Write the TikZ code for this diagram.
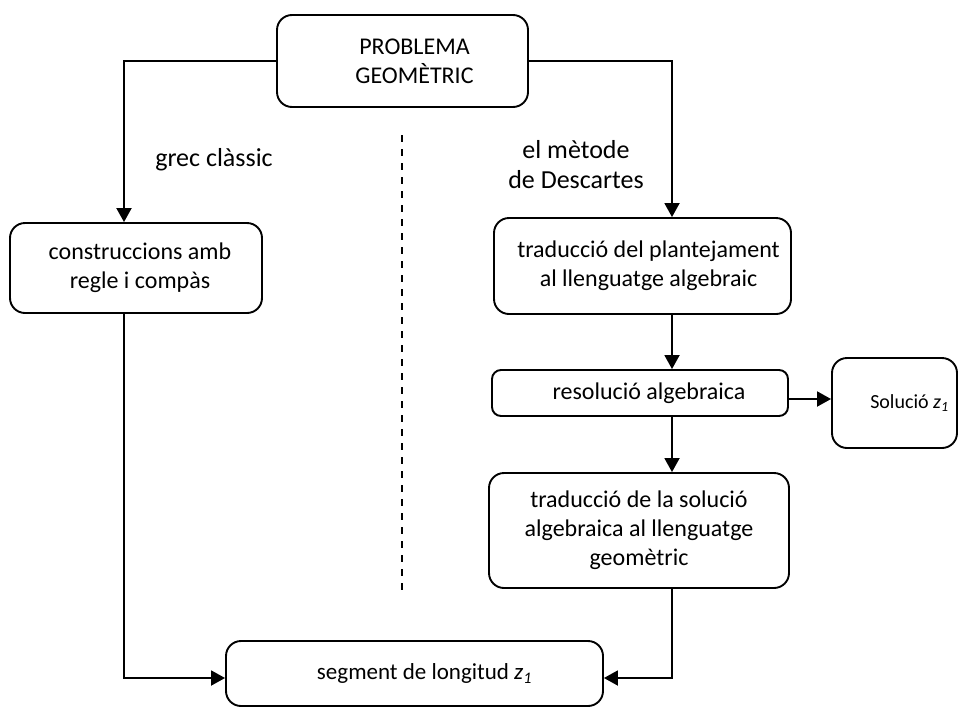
\documentclass[tikz,border=0pt]{standalone}
\usepackage{fontspec}
\setmainfont{Carlito}
\usetikzlibrary{arrows.meta}
\newcommand{\zone}{\textit{z}\textsubscript{\textit{1}}}
% pushes a centred line to the right by half of the given amount
\newcommand{\pushr}[1]{\hspace*{#1}}
\begin{document}
\begin{tikzpicture}[x=1pt,y=-1pt,
  box/.style={draw, line width=1.9pt, rounded corners=15pt, align=center,
    inner sep=0pt, font=\fontsize{24}{29}\selectfont},
  lbl/.style={align=center, inner sep=0pt, font=\fontsize{26}{30}\selectfont},
  flow/.style={line width=1.9pt, -{Triangle[length=14pt,width=15pt]}},
  sep/.style={line width=1.9pt, dash pattern=on 7pt off 7pt}]
\useasboundingbox (0,0) rectangle (960,707);

% boxes
\node[box, minimum width=251pt, minimum height=92pt] (prob) at (402.5,61)
  {\pushr{24pt}PROBLEMA\\\pushr{24pt}GEOMÈTRIC};
\node[box, minimum width=252pt, minimum height=90pt] (constr) at (136,268)
  {\pushr{8pt}construccions amb\\\pushr{8pt}regle i compàs};
\node[box, minimum width=297pt, minimum height=96pt] (trad1) at (642.5,266)
  {\pushr{12pt}traducció del plantejament\\\pushr{12pt}al llenguatge algebraic};
\node[box, rounded corners=9pt, minimum width=296pt, minimum height=46pt] (resol) at (640,393)
  {\pushr{18pt}resolució algebraica};
\node[box, minimum width=125pt, minimum height=90pt,
  font=\fontsize{20}{24}\selectfont] (sol) at (894.5,403)
  {\pushr{30pt}Solució \zone};
\node[box, minimum width=300pt, minimum height=115pt] (trad2) at (639,530.5)
  {traducció de la solució\\algebraica al llenguatge\\geomètric};
\node[box, minimum width=377pt, minimum height=65pt,
  font=\fontsize{23}{28}\selectfont] (seg) at (414.5,673.5)
  {\pushr{20pt}segment de longitud \zone};

% labels
\node[lbl] (grec) at (214,160) {grec clàssic};
\node[lbl] (desc) at (576,165) {el mètode\\de Descartes};

% dividing line
\coordinate (sepTop) at (402,135);
\coordinate (sepBot) at (402,596);
\draw[sep] (sepTop) -- (sepBot);

% connectors
\draw[flow] (prob.west) -| ([xshift=-12pt]constr.north);
\draw[flow] (prob.east) -| ([xshift=29.5pt]trad1.north);
\draw[flow] ([xshift=29.5pt]trad1.south) -- ([xshift=32pt]resol.north);
\draw[flow] ([xshift=32pt]resol.south) -- ([xshift=33pt]trad2.north);
\draw[flow] ([yshift=-6pt]resol.east) -- ([yshift=-6pt]resol.east -| sol.west);
\draw[flow] ([xshift=-12pt]constr.south) |- ([yshift=-4.5pt]seg.west);
\draw[flow] ([xshift=33pt]trad2.south) |- ([yshift=-4.5pt]seg.east);
\end{tikzpicture}
\end{document}
